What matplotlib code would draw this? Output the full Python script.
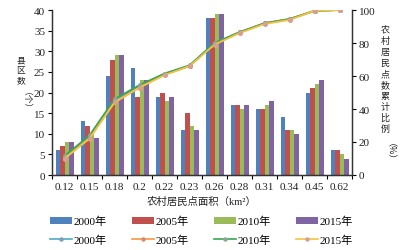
import matplotlib
matplotlib.use("Agg")
import matplotlib.pyplot as plt
import numpy as np
from matplotlib.patches import Patch
from matplotlib.lines import Line2D

categories = ["0.12", "0.15", "0.18", "0.2", "0.22", "0.23", "0.26", "0.28", "0.31", "0.34", "0.45", "0.62"]
years = ["2000年", "2005年", "2010年", "2015年"]
bars_2000 = [6, 13, 24, 26, 19, 11, 38, 17, 16, 14, 20, 6]
bars_2005 = [7, 12, 28, 19, 20, 15, 38, 17, 16, 11, 21, 6]
bars_2010 = [8, 10, 29, 23, 18, 12, 39, 16, 17, 11, 22, 5]
bars_2015 = [8, 9, 29, 23, 19, 11, 39, 17, 18, 10, 23, 4]
cum_2000 = [11, 23, 45, 54, 61, 66, 80, 86.5, 92, 94.5, 99.5, 100]
cum_2005 = [10, 22.5, 44, 53, 61, 66, 79.5, 86.5, 92, 94.5, 99.5, 100]
cum_2010 = [11.5, 24, 46, 54.5, 61.5, 66.5, 80, 86.5, 92, 94.5, 99.5, 100]
cum_2015 = [10, 22, 44, 53, 60.5, 66, 79, 86, 91.5, 94, 99.5, 100]

bar_colors = ["#4f81bd", "#c0504d", "#9bbb59", "#8064a2"]
line_colors = ["#4bacc6", "#f79646", "#3aa655", "#f5c242"]
marker_colors = ["#7f9fb0", "#d98a6a", "#8aa890", "#d8a090"]

serif = ["Liberation Serif", "Noto Sans CJK SC"]
cjk = ["Noto Sans CJK SC", "Liberation Serif"]

fig = plt.figure(figsize=(4.04, 2.51), dpi=100)
W, H = 404, 251
ax = fig.add_axes([52 / W, 1 - 176 / H, 300 / W, 165 / H])
ax2 = ax.twinx()

x = np.arange(len(categories))
bw = 0.18
all_bars = [bars_2000, bars_2005, bars_2010, bars_2015]
for i, vals in enumerate(all_bars):
    ax.bar(x + (i - 1.5) * bw, vals, width=bw, color=bar_colors[i], linewidth=0, zorder=2)

all_cum = [cum_2000, cum_2005, cum_2010, cum_2015]
for i, vals in enumerate(all_cum):
    ax2.plot(x, vals, color=line_colors[i], lw=1.3, marker="o", ms=2.6,
             mfc=marker_colors[i], mec=marker_colors[i], zorder=3)

ax.set_xlim(-0.5, len(categories) - 0.5)
ax.set_ylim(0, 40)
ax2.set_ylim(0, 100)
ax.set_yticks(np.arange(0, 41, 5))
ax2.set_yticks(np.arange(0, 101, 20))
ax.set_xticks(x)
ax.set_xticklabels(categories)
ax.set_xticks(np.arange(-0.5, len(categories), 1), minor=True)
ax.tick_params(axis="x", which="major", length=0, pad=5)
ax.tick_params(axis="x", which="minor", length=3, direction="out", width=0.8)
ax.tick_params(axis="y", length=3, direction="out", width=0.8, pad=2)
ax2.tick_params(axis="y", length=3, direction="out", width=0.8, pad=2)
for a in (ax, ax2):
    for lab in a.get_xticklabels() + a.get_yticklabels():
        lab.set_fontfamily(serif)
        lab.set_fontsize(8)
        lab.set_color("#222222")
    for s in ("top",):
        a.spines[s].set_visible(False)
    for s in a.spines.values():
        s.set_linewidth(0.9)
        s.set_color("#333333")

ax.set_xlabel("农村居民点面积（km²）", fontfamily=serif, fontsize=7.5, labelpad=3, color="#222222")

# left y label (vertical text)
for k, ch in enumerate("县区数"):
    fig.text(21 / W, 1 - (61 + k * 10) / H, ch, fontfamily=cjk, fontsize=6.3,
             ha="center", va="center", color="#222222")
fig.text(21 / W, 1 - 105 / H, "（个）", fontfamily=cjk, fontsize=6.3, rotation=-90,
         ha="center", va="center", color="#222222")
# right y label
for k, ch in enumerate("农村居民点数累计比例"):
    fig.text(385 / W, 1 - (31 + k * 10.9) / H, ch, fontfamily=cjk, fontsize=6.5,
             ha="center", va="center", color="#222222")
fig.text(385 / W, 1 - 156 / H, "（%）", fontfamily=cjk, fontsize=6.5, rotation=-90,
         ha="center", va="center", color="#222222")

handles = []
labels = []
for i in range(4):
    handles.append(Patch(facecolor=bar_colors[i], edgecolor="none"))
    labels.append(years[i])
    handles.append(Line2D([], [], color=line_colors[i], lw=1.2, marker="o", ms=2.2,
                          mfc=marker_colors[i], mec=marker_colors[i]))
    labels.append(years[i])
leg = fig.legend(handles, labels, ncol=4, loc="upper left",
                 bbox_to_anchor=(50 / W, 1 - 217 / H), frameon=False,
                 prop={"family": serif, "size": 8}, handlelength=2.0,
                 handleheight=0.55, handletextpad=0.1, columnspacing=2.3,
                 labelspacing=0.75, borderaxespad=0, borderpad=0)

fig.savefig("out.png", dpi=100)
